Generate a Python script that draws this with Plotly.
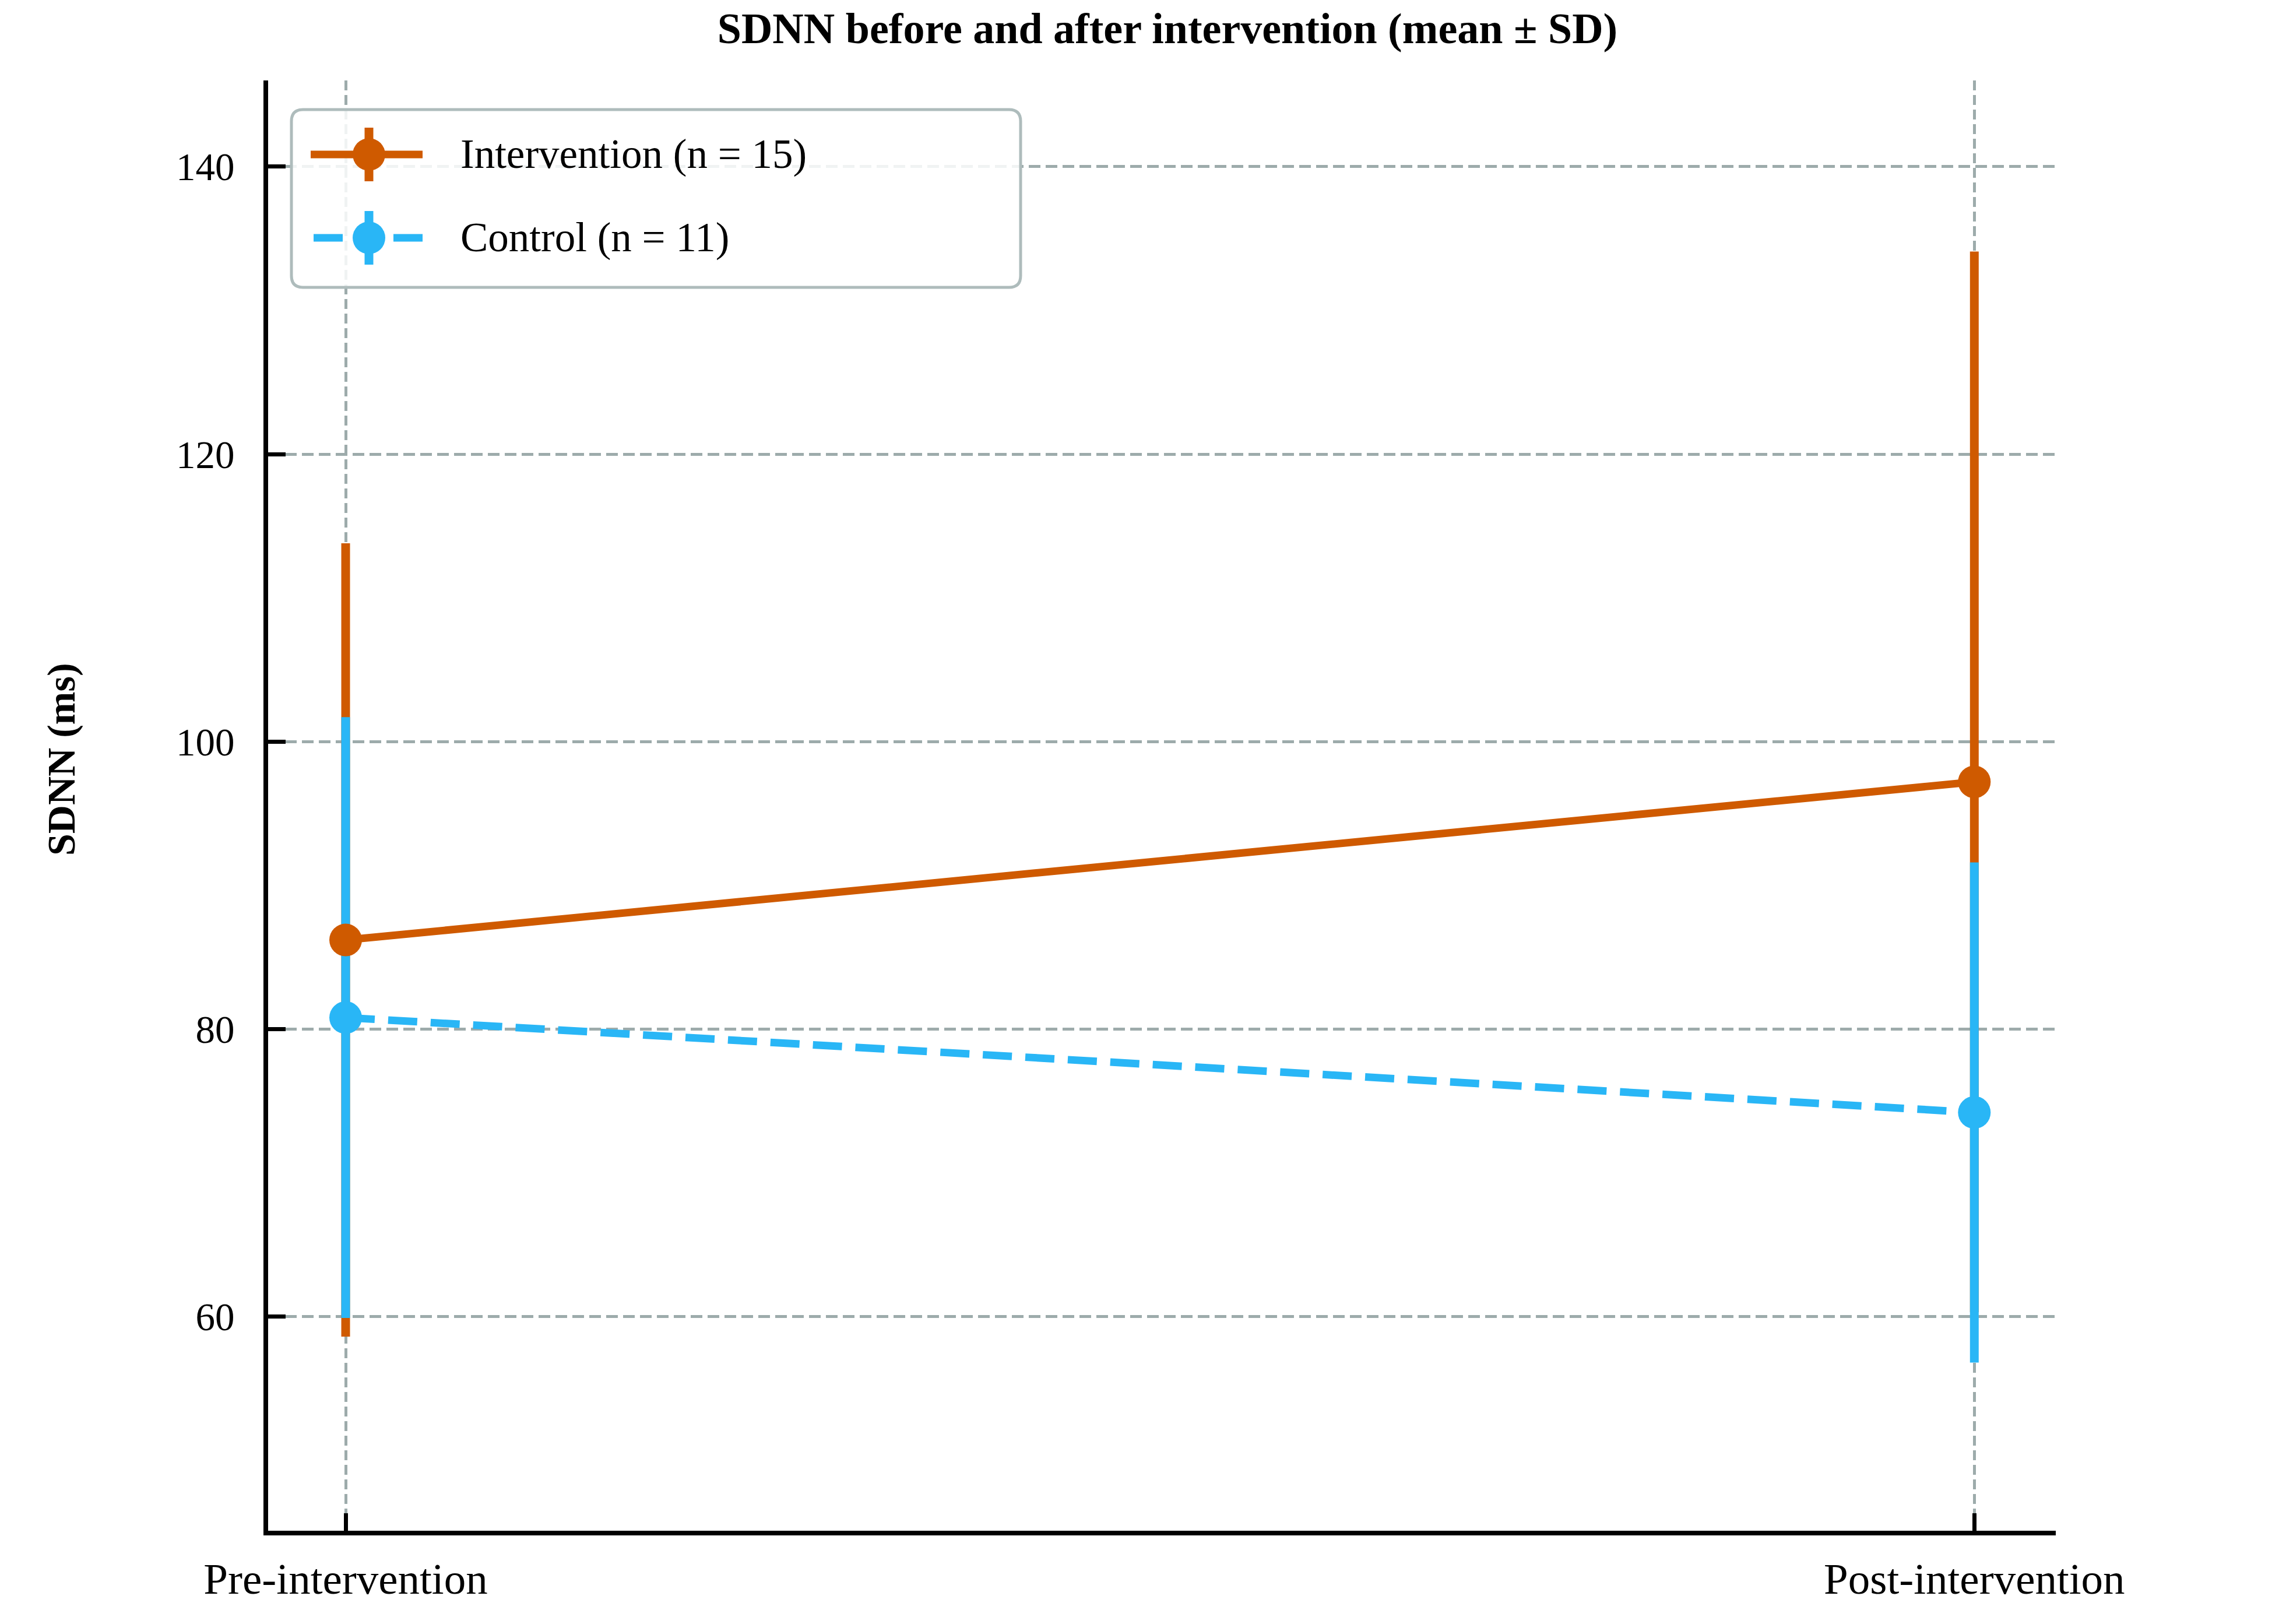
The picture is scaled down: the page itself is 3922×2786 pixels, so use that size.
import plotly.graph_objects as go

# ---- data ----
categories = ["Pre-intervention", "Post-intervention"]
series_names = ["Intervention (n = 15)", "Control (n = 11)"]
intervention_mean = [86.2, 97.2]
intervention_sd = [27.6, 36.9]
control_mean = [80.8, 74.2]
control_sd = [20.9, 17.4]
y_ticks = [60, 80, 100, 120, 140]

ORANGE = "#CF5A00"
BLUE = "#29B6F6"
GRID = "#9DABAB"
FONT = "Liberation Serif"

fig = go.Figure()

# intervention error bars (drawn underneath everything)
fig.add_trace(go.Scatter(
    x=categories, y=intervention_mean, mode="markers",
    marker=dict(size=1, color=ORANGE, opacity=0),
    error_y=dict(type="data", array=intervention_sd, visible=True,
                 color=ORANGE, thickness=15, width=0),
    showlegend=False, hoverinfo="skip"))

# control: line, markers, error bars
fig.add_trace(go.Scatter(
    x=categories, y=control_mean, mode="lines+markers", name=series_names[1],
    line=dict(color=BLUE, width=13, dash="50px,23px"),
    marker=dict(size=56, color=BLUE, line=dict(width=0)),
    error_y=dict(type="data", array=control_sd, visible=True,
                 color=BLUE, thickness=15, width=0),
    showlegend=False))

# intervention line + markers (on top)
fig.add_trace(go.Scatter(
    x=categories, y=intervention_mean, mode="lines+markers", name=series_names[0],
    line=dict(color=ORANGE, width=13),
    marker=dict(size=56, color=ORANGE, line=dict(width=0)),
    showlegend=False))

# ---- custom legend (paper coords) ----
L, W, T, H = 460, 3067, 138, 2488
def px(X):
    return (X - L) / W
def py(Y):
    return (T + H - Y) / H

x0, x1 = px(500), px(1751)
yt, yb = py(188), py(493)
rx, ry = 20 / W, 20 / H
path = (f"M {x0+rx},{yt} L {x1-rx},{yt} Q {x1},{yt} {x1},{yt-ry} "
        f"L {x1},{yb+ry} Q {x1},{yb} {x1-rx},{yb} L {x0+rx},{yb} "
        f"Q {x0},{yb} {x0},{yb+ry} L {x0},{yt-ry} Q {x0},{yt} {x0+rx},{yt} Z")
shapes = [dict(type="path", path=path, xref="paper", yref="paper",
               fillcolor="rgba(255,255,255,0.85)",
               line=dict(color="#AEBCBC", width=5), layer="above")]

rows = [265, 408]
colors = [ORANGE, BLUE]
annotations = []
for i, (name, col) in enumerate(zip(series_names, colors)):
    yc = rows[i]
    if i == 0:
        shapes.append(dict(type="line", xref="paper", yref="paper",
                           x0=px(533), x1=px(725), y0=py(yc), y1=py(yc),
                           line=dict(color=col, width=13), layer="above"))
    else:
        for a, b in [(538, 588), (675, 725)]:
            shapes.append(dict(type="line", xref="paper", yref="paper",
                               x0=px(a), x1=px(b), y0=py(yc), y1=py(yc),
                               line=dict(color=col, width=13), layer="above"))
    shapes.append(dict(type="line", xref="paper", yref="paper",
                       x0=px(633), x1=px(633), y0=py(yc - 46), y1=py(yc + 46),
                       line=dict(color=col, width=15), layer="above"))
    shapes.append(dict(type="circle", xref="paper", yref="paper",
                       x0=px(633 - 28), x1=px(633 + 28),
                       y0=py(yc + 28), y1=py(yc - 28),
                       fillcolor=col, line=dict(width=0), layer="above"))
    annotations.append(dict(text=name, xref="paper", yref="paper",
                            x=px(788), y=py(yc), xanchor="left", yanchor="middle",
                            showarrow=False,
                            font=dict(family=FONT, size=71, color="black")))

# y-axis title as annotation for exact placement
annotations.append(dict(text="SDNN (ms)", xref="paper", yref="paper",
                        x=px(105), y=py(1303), textangle=-90,
                        xanchor="center", yanchor="middle", showarrow=False,
                        font=dict(family=FONT, size=68, color="black", weight="bold")))

fig.update_layout(
    width=3922, height=2786,
    margin=dict(l=L, r=3922 - L - W, t=138, b=160),
    paper_bgcolor="white", plot_bgcolor="white",
    title=dict(text="SDNN before and after intervention (mean ± SD)",
               xref="container", yref="container",
               x=2003 / 3922, y=1 - 48 / 2786,
               xanchor="center", yanchor="middle",
               font=dict(family=FONT, size=74, color="black", weight="bold")),
    shapes=shapes, annotations=annotations,
    showlegend=False,
)

fig.update_xaxes(
    type="category", categoryorder="array", categoryarray=categories,
    range=[-0.0476, 1.05],
    showline=True, linecolor="black", linewidth=8,
    ticks="inside", ticklen=30, tickwidth=7, tickcolor="black",
    showgrid=True, gridcolor=GRID, gridwidth=5, griddash="17px,8px",
    tickfont=dict(family=FONT, size=75, color="black"),
    ticklabelstandoff=10, zeroline=False,
)
fig.update_yaxes(
    range=[45.1, 146],
    tickvals=y_ticks,
    showline=True, linecolor="black", linewidth=8,
    ticks="inside", ticklen=30, tickwidth=7, tickcolor="black",
    showgrid=True, gridcolor=GRID, gridwidth=5, griddash="20px,9px",
    tickfont=dict(family=FONT, size=67, color="black"),
    ticklabelstandoff=36, zeroline=False,
)

fig.write_html("out.html")
